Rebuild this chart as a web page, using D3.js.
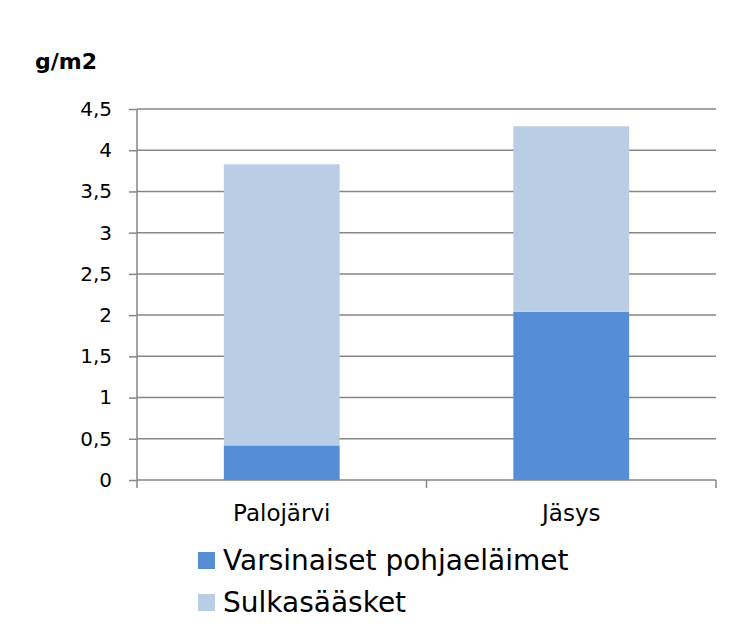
<!DOCTYPE html>
<html><head><meta charset="utf-8">
<script src="https://cdn.jsdelivr.net/npm/d3@7"></script>
<style>body{margin:0;background:#fff}svg{display:block}text{font-family:"DejaVu Sans",sans-serif;fill:#000}</style>
</head><body><svg id="c" width="735" height="640"></svg>
<script>
const categories = ["Palojärvi", "Jäsys"];
const seriesNames = ["Varsinaiset pohjaeläimet", "Sulkasääsket"];
const varsinaiset = [0.42, 2.04];
const sulkasaasket = [3.41, 2.25];
const yTicks = [0, 0.5, 1, 1.5, 2, 2.5, 3, 3.5, 4, 4.5];
const colors = ["#558ED5", "#B9CDE5"];

const svg = d3.select("#c");
const x = d3.scaleBand().domain(categories).range([137, 716]).paddingInner(0).paddingOuter(0);
const y = d3.scaleLinear().domain([0, 4.5]).range([480, 109]);
const fmt = d => String(d).replace(".", ",");

// gridlines
svg.append("g").selectAll("line").data(yTicks.filter(d => d > 0)).join("line")
  .attr("x1", 137).attr("x2", 716).attr("y1", d => y(d)).attr("y2", d => y(d))
  .attr("stroke", "#868686").attr("stroke-width", 1.5);

const data = categories.map((c, i) => ({cat: c, v: [varsinaiset[i], sulkasaasket[i]]}));
const stack = d3.stack().keys([0, 1]).value((d, k) => d.v[k]);
const layers = stack(data);
const bw = x.bandwidth() * 0.4;
svg.append("g").selectAll("g").data(layers).join("g").attr("fill", (d, i) => colors[i])
  .selectAll("rect").data(d => d).join("rect")
  .attr("x", d => x(d.data.cat) + (x.bandwidth() - bw) / 2)
  .attr("width", bw)
  .attr("y", d => y(d[1]))
  .attr("height", d => y(d[0]) - y(d[1]));

// y axis
const ya = svg.append("g").attr("transform", "translate(137,0)")
  .call(d3.axisLeft(y).tickValues(yTicks).tickFormat(fmt).tickSize(8).tickPadding(17));
ya.select(".domain").attr("stroke", "#868686").attr("stroke-width", 1.5).attr("d", "M0,109V480");
ya.selectAll(".tick line").attr("stroke", "#868686").attr("stroke-width", 1.5);
ya.selectAll(".tick text").attr("font-size", 20).attr("font-family", "DejaVu Sans").attr("fill", "#000");

// x axis
const xa = svg.append("g").attr("transform", "translate(0,480)");
xa.append("line").attr("x1", 137).attr("x2", 716).attr("stroke", "#868686").attr("stroke-width", 1.5);
const bounds = [137, 137 + x.bandwidth(), 716];
xa.selectAll("line.t").data(bounds).join("line").attr("class", "t")
  .attr("x1", d => d).attr("x2", d => d).attr("y1", 0).attr("y2", 8)
  .attr("stroke", "#868686").attr("stroke-width", 1.5);
xa.selectAll("text").data(categories).join("text")
  .attr("x", d => x(d) + x.bandwidth() / 2).attr("y", 41)
  .attr("text-anchor", "middle").attr("font-size", 23).text(d => d);

// unit label
svg.append("text").attr("x", 35).attr("y", 69).attr("font-size", 22).attr("font-weight", "bold").text("g/m2");

// legend
const lg = svg.append("g").selectAll("g").data(seriesNames).join("g")
  .attr("transform", (d, i) => `translate(198,${552 + i * 42})`);
lg.append("rect").attr("width", 17).attr("height", 17).attr("fill", (d, i) => colors[i]);
lg.append("text").attr("x", 25).attr("y", 18).attr("font-size", 28).text(d => d);
</script></body></html>
